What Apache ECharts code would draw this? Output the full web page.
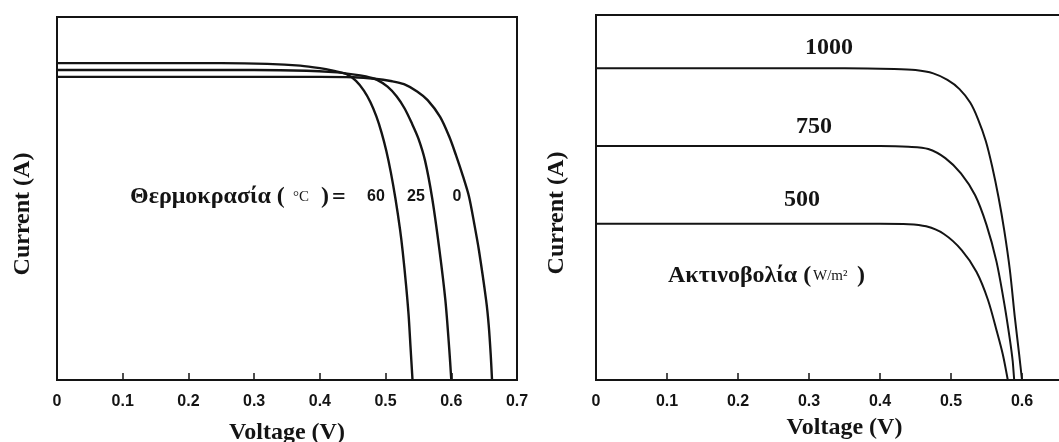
<!DOCTYPE html>
<html><head><meta charset="utf-8">
<script src="https://cdn.jsdelivr.net/npm/echarts@6/dist/echarts.min.js"></script>
<style>html,body{margin:0;padding:0;background:#fff}#c{width:1059px;height:442px}</style>
</head><body><div id="c"></div><script>
// ---- data (y in arbitrary current units) ----
const voltageTicks = ['0', '0.1', '0.2', '0.3', '0.4', '0.5', '0.6', '0.7'];
const tempLabels = ['60', '25', '0'];
const temp60 = [[0,0.873],[0.25,0.873],[0.32,0.871],[0.37,0.866],[0.40,0.859],[0.42,0.852],[0.44,0.843],[0.455,0.824],[0.467,0.797],[0.477,0.765],[0.486,0.726],[0.494,0.681],[0.501,0.632],[0.508,0.572],[0.515,0.500],[0.522,0.415],[0.526,0.355],[0.531,0.265],[0.535,0.18],[0.538,0.09],[0.541,0]];
const temp25 = [[0,0.854],[0.3,0.854],[0.38,0.852],[0.42,0.848],[0.45,0.842],[0.47,0.836],[0.487,0.827],[0.503,0.808],[0.517,0.781],[0.529,0.748],[0.540,0.707],[0.550,0.665],[0.560,0.605],[0.571,0.5],[0.582,0.358],[0.591,0.22],[0.597,0.083],[0.600,0]];
const temp0 = [[0,0.835],[0.4,0.835],[0.45,0.834],[0.483,0.83],[0.51,0.823],[0.528,0.815],[0.548,0.795],[0.564,0.771],[0.583,0.725],[0.597,0.67],[0.607,0.62],[0.618,0.56],[0.627,0.505],[0.635,0.43],[0.642,0.358],[0.653,0.22],[0.657,0.15],[0.660,0.07],[0.662,0]];
const irrLabels = ['1000', '750', '500'];
const irr1000 = [[0,0.854],[0.35,0.854],[0.42,0.852],[0.45,0.849],[0.475,0.840],[0.495,0.822],[0.512,0.797],[0.527,0.76],[0.538,0.715],[0.549,0.655],[0.558,0.585],[0.567,0.50],[0.575,0.41],[0.583,0.30],[0.590,0.17],[0.596,0.07],[0.600,0]];
const irr750 = [[0,0.641],[0.40,0.641],[0.44,0.639],[0.468,0.633],[0.492,0.608],[0.514,0.566],[0.534,0.506],[0.550,0.425],[0.564,0.325],[0.575,0.21],[0.583,0.11],[0.587,0.05],[0.589,0]];
const irr500 = [[0,0.428],[0.40,0.428],[0.44,0.427],[0.465,0.421],[0.49,0.400],[0.515,0.356],[0.536,0.296],[0.552,0.22],[0.565,0.13],[0.573,0.07],[0.580,0]];

const SERIF = '"Liberation Serif", "Times New Roman", serif';
const SANS = '"Liberation Sans", Arial, sans-serif';
const INK = '#141414';

function xAxisOf(gridIndex, nameGap) {
  return {
    type: 'value', gridIndex, min: 0, max: 0.7, interval: 0.1,
    name: 'Voltage (V)', nameLocation: 'middle', nameGap,
    nameTextStyle: { fontFamily: SERIF, fontWeight: 'bold', fontSize: 24, color: INK },
    axisLine: { show: false },
    axisTick: { show: true, inside: true, length: 7, lineStyle: { color: INK, width: 1.5 } },
    splitLine: { show: false },
    axisLabel: {
      margin: 14, fontFamily: SANS, fontWeight: 'bold', fontSize: 16, color: INK,
      formatter: v => voltageTicks[Math.round(v * 10)]
    }
  };
}
function yAxisOf(gridIndex) {
  return {
    type: 'value', gridIndex, min: 0, max: 1,
    axisLine: { show: false }, axisTick: { show: false },
    axisLabel: { show: false }, splitLine: { show: false }
  };
}
function curve(data, xi, w) {
  return {
    type: 'line', xAxisIndex: xi, yAxisIndex: xi, data,
    showSymbol: false, smooth: 0.3, animation: false,
    lineStyle: { color: INK, width: w }
  };
}
function txt(x, y, text, font, align) {
  return { type: 'text', x, y, style: { text, font, fill: INK, align: align || 'left', verticalAlign: 'middle' } };
}

const chart = echarts.init(document.getElementById('c'), null, { renderer: 'canvas' });
chart.setOption({
  backgroundColor: '#ffffff',
  animation: false,
  grid: [
    { left: 57, top: 17, width: 460, height: 363, show: true, borderColor: INK, borderWidth: 2, backgroundColor: 'transparent', containLabel: false, outerBoundsMode: 'none' },
    { left: 596, top: 15, width: 497, height: 365, show: true, borderColor: INK, borderWidth: 2, backgroundColor: 'transparent', containLabel: false, outerBoundsMode: 'none' }
  ],
  xAxis: [xAxisOf(0, 41), xAxisOf(1, 36)],
  yAxis: [yAxisOf(0), yAxisOf(1)],
  series: [
    curve(temp60, 0, 2.4), curve(temp25, 0, 2.4), curve(temp0, 0, 2.4),
    curve(irr1000, 1, 2), curve(irr750, 1, 2), curve(irr500, 1, 2)
  ],
  graphic: [
    { type: 'text', x: 23, y: 214, rotation: Math.PI / 2,
      style: { text: 'Current (A)', font: 'bold 24px ' + SERIF, fill: INK, align: 'center', verticalAlign: 'middle' } },
    { type: 'text', x: 557, y: 213, rotation: Math.PI / 2,
      style: { text: 'Current (A)', font: 'bold 24px ' + SERIF, fill: INK, align: 'center', verticalAlign: 'middle' } },
    txt(130, 197, 'Θερμοκρασία (', 'bold 24px ' + SERIF),
    txt(293, 197, '°C', '15px ' + SERIF),
    txt(321, 197, ')', 'bold 24px ' + SERIF),
    txt(332, 198, '=', 'bold 24px ' + SERIF),
    txt(376, 197, tempLabels[0], 'bold 16px ' + SANS, 'center'),
    txt(416, 197, tempLabels[1], 'bold 16px ' + SANS, 'center'),
    txt(457, 197, tempLabels[2], 'bold 16px ' + SANS, 'center'),
    txt(829, 48, irrLabels[0], 'bold 24px ' + SERIF, 'center'),
    txt(814, 127, irrLabels[1], 'bold 24px ' + SERIF, 'center'),
    txt(802, 200, irrLabels[2], 'bold 24px ' + SERIF, 'center'),
    txt(668, 276, 'Ακτινοβολία (', 'bold 24px ' + SERIF),
    txt(813, 276, 'W/m²', '15px ' + SERIF),
    txt(857, 276, ')', 'bold 24px ' + SERIF)
  ]
});
</script></body></html>
